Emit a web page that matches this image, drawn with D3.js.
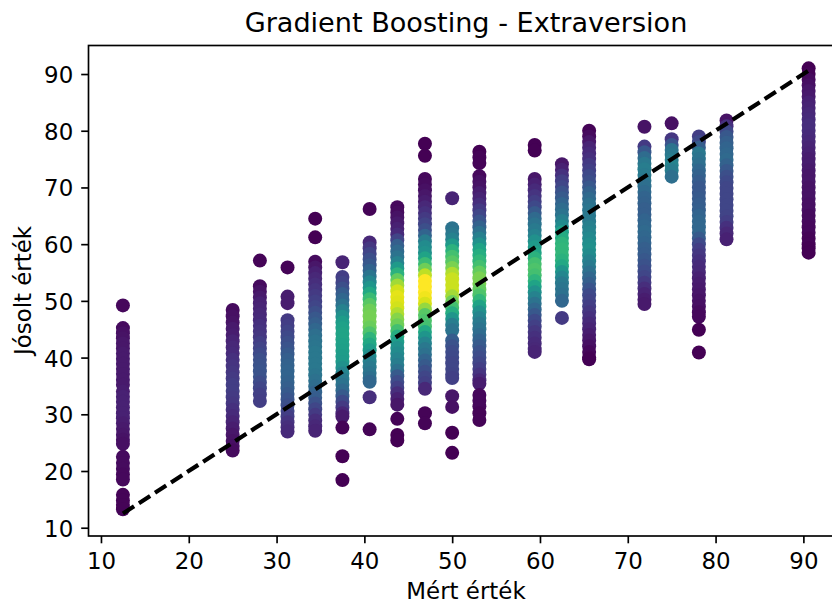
<!DOCTYPE HTML>
<html lang="en">
<head>
<meta charset="utf-8" />
<title>Gradient Boosting - Extraversion</title>
<style>
  html, body { margin: 0; padding: 0; background: #fff; overflow: hidden; }
  svg { display: block; }
  text { font-family: "DejaVu Sans", sans-serif; fill: #000; }
</style>
</head>
<body>
<div id="chart"></div>
<script src="https://d3js.org/d3.v7.min.js"></script>
<script>
// data
const titleText = "Gradient Boosting - Extraversion";
const xLabel = "Mért érték";
const yLabel = "Jósolt érték";
const xTicks = [10, 20, 30, 40, 50, 60, 70, 80, 90];
const yTicks = [10, 20, 30, 40, 50, 60, 70, 80, 90];
const idealLine = [12.5, 90.6];

const measured = [12.5, 25, 28.1, 31.25, 34.4, 37.5, 40.6, 43.75, 46.9, 50, 53.1, 59.4, 62.5, 65.6, 71.9, 75, 78.1, 81.25, 90.6];

// predicted values, one list per measured value
const predicted = [
  [49.2,45.2,44.3,43.4,42.5,41.6,40.7,39.8,38.9,38.0,37.1,36.1,35.2,34.0,33.1,32.2,31.2,30.2,29.3,28.4,27.4,26.4,25.5,24.8,22.5,21.4,20.4,19.4,18.5,15.8,14.8,14.0,13.25],
  [48.4,47.3,46.2,45.1,44.0,42.9,41.8,40.7,39.6,38.5,37.4,36.3,35.2,34.1,33.0,31.9,30.8,29.7,28.6,27.5,26.4,25.3,24.4,23.6],
  [57.1,52.6,51.6,50.6,49.6,48.6,47.6,46.6,45.6,44.6,43.6,42.6,41.6,40.6,39.6,38.6,37.6,36.6,35.6,34.6,33.5,32.35],
  [55.9,50.75,49.6,46.6,45.6,44.6,43.6,42.6,41.6,40.6,39.6,38.6,37.6,36.6,35.6,34.6,33.6,32.6,31.6,30.6,29.6,28.6,27.7,26.95],
  [64.5,61.2,56.9,55.9,54.9,53.9,52.9,51.9,50.9,49.9,48.9,47.9,46.9,45.9,44.9,43.9,42.9,41.9,40.9,39.9,38.9,37.9,36.9,35.9,34.9,33.9,32.9,31.9,30.9,29.9,28.9,27.9,27.1],
  [56.8,54.2,53.2,52.2,51.2,50.2,49.2,48.2,47.2,46.2,45.2,44.2,43.2,42.2,41.2,40.2,39.2,38.2,37.2,36.2,35.2,34.2,33.2,32.2,31.2,30.2,29.6,27.65,22.6,18.4],
  [66.2,60.3,59.3,58.3,57.3,56.3,55.3,54.3,53.3,52.3,51.3,50.3,49.3,48.3,47.3,46.3,45.3,44.3,43.3,42.3,41.3,40.3,39.3,38.3,37.3,36.4,35.75,33.0,27.35],
  [66.5,65.6,64.7,63.7,62.7,61.7,60.7,59.7,58.7,57.7,56.7,55.7,54.7,53.7,52.7,51.7,50.7,49.7,48.7,47.7,46.7,45.7,44.7,43.7,42.7,41.7,40.7,39.7,38.7,37.7,36.7,35.7,34.7,33.7,32.7,31.7,29.2,26.35,25.4],
  [77.7,75.6,71.5,70.5,69.5,68.5,67.5,66.5,65.5,64.5,63.5,62.5,61.5,60.5,59.5,58.5,57.5,56.5,55.5,54.5,53.5,52.5,51.5,50.5,49.5,48.5,47.5,46.5,45.5,44.5,43.5,42.5,41.5,40.5,39.5,38.5,37.5,36.5,35.5,34.5,30.2,28.4],
  [68.1,62.8,61.8,60.8,59.8,58.8,57.8,56.8,55.8,54.8,53.8,52.8,51.8,50.8,49.8,48.8,47.8,46.8,45.8,44.8,43.0,42.0,41.0,40.0,39.0,38.0,37.0,36.4,33.2,31.3,26.75,23.2],
  [76.3,75.3,74.3,72.0,71.0,70.0,69.0,68.0,67.0,66.0,65.0,64.0,63.0,62.0,61.0,60.0,59.0,58.0,57.0,56.0,55.0,54.0,53.0,52.0,51.0,50.0,49.0,48.0,47.0,46.0,45.0,44.0,43.0,42.0,41.0,40.0,39.0,38.0,37.0,36.0,35.4,33.4,32.4,31.4,30.2,29.0],
  [77.5,76.5,71.5,70.5,69.5,68.5,67.5,66.5,65.5,64.5,63.5,62.5,61.5,60.5,59.5,58.5,57.5,56.5,55.5,54.5,53.5,52.5,51.5,50.5,49.5,48.5,47.5,46.5,45.5,44.5,43.5,42.5,41.5,41.0],
  [74.1,73.1,72.1,71.1,70.1,69.1,68.1,67.1,66.1,65.1,64.1,63.1,62.1,61.1,60.1,59.1,58.1,57.1,56.1,55.1,54.1,53.1,52.1,51.1,50.0,47.0],
  [80,79,78,77,76,75,74,73,72,71,70,69,68,67,66,65,64,63,62,61,60,59,58,57,56,55,54,53,52,51,50,49,48,47,46,45,44,43,42,41,40,39.7],
  [80.7,77.2,76.2,75.2,74.2,73.2,72.2,71.2,70.2,69.2,68.2,67.2,66.2,65.2,64.2,63.2,62.2,61.2,60.2,59.2,58.2,57.2,56.2,55.2,54.2,53.2,52.2,51.2,50.2,49.45],
  [81.3,78.5,77.5,76.6,75.7,74.85,73.9,73.0,71.9],
  [79,78,77,76,75,74,73,72,71,70,69,68,67,66,65,64,63,62,61,60,59,58,57,56,55,54,53,52,51,50,49,48,47.2,44.9,40.9],
  [81.8,80.8,79.85,78.9,77.9,76.9,75.9,74.9,73.9,72.9,71.9,70.9,69.9,68.9,67.9,66.9,65.9,64.9,63.9,62.9,61.9,60.85],
  [91,90,89,88,87,86,85,84,83,82,81,80,79,78,77,76,75,74,73,72,71,70,69,68,67,66,65,64,63,62,61,60,59.3,58.5]
];

// point density (0-1 on the colour scale), same order as predicted
const density = [
  [.02,.03,.04,.05,.06,.06,.07,.07,.07,.07,.07,.07,.07,.08,.09,.09,.09,.09,.09,.08,.07,.06,.05,.04,.03,.03,.03,.02,.02,.01,.01,.01,.01],
  [.03,.04,.05,.07,.08,.1,.11,.12,.14,.15,.16,.17,.18,.18,.17,.16,.14,.12,.1,.08,.06,.05,.04,.03],
  [.01,.03,.05,.07,.09,.1,.11,.12,.14,.15,.16,.18,.2,.22,.24,.25,.26,.25,.23,.21,.19,.18],
  [.01,.08,.08,.17,.18,.2,.22,.24,.26,.28,.3,.31,.32,.32,.31,.3,.28,.26,.24,.21,.18,.15,.13,.12],
  [0,0,.03,.06,.09,.11,.13,.15,.17,.19,.21,.24,.27,.3,.33,.36,.38,.39,.4,.4,.4,.4,.39,.37,.35,.32,.29,.25,.21,.17,.13,.11,.1],
  [.1,.18,.2,.24,.29,.33,.38,.44,.5,.55,.57,.58,.58,.57,.56,.55,.54,.5,.45,.41,.38,.34,.28,.22,.17,.11,.07,.01,0,0],
  [.01,.11,.16,.2,.24,.27,.32,.39,.46,.52,.6,.68,.74,.78,.79,.79,.77,.72,.65,.6,.55,.49,.44,.41,.39,.36,.33,.13,.01],
  [.02,.03,.05,.07,.09,.12,.2,.3,.34,.38,.44,.54,.64,.76,.86,.93,.96,.95,.93,.88,.82,.78,.7,.62,.55,.5,.48,.45,.42,.37,.28,.23,.19,.13,.09,.06,.01,0,0],
  [0,0,.02,.03,.04,.06,.08,.11,.14,.17,.2,.24,.32,.42,.48,.5,.58,.68,.78,.9,1,1,1,.98,.94,.84,.74,.72,.7,.6,.52,.45,.4,.37,.32,.28,.24,.21,.19,.11,.01,.01],
  [.1,.38,.4,.44,.54,.64,.7,.74,.8,.88,.92,.92,.92,.86,.78,.7,.62,.52,.42,.38,.29,.25,.23,.22,.21,.21,.2,.19,.06,.04,0,0],
  [0,.01,.01,.02,.04,.05,.08,.1,.13,.17,.21,.26,.31,.37,.43,.5,.58,.62,.66,.7,.76,.8,.8,.76,.72,.66,.58,.5,.45,.41,.38,.35,.31,.28,.25,.23,.21,.18,.15,.11,.08,.02,.02,.02,.01,.01],
  [0,0,.06,.09,.12,.15,.18,.22,.28,.34,.38,.41,.44,.5,.54,.58,.64,.7,.72,.7,.65,.58,.5,.44,.38,.33,.27,.22,.19,.16,.14,.12,.11,.1],
  [.06,.09,.14,.18,.21,.25,.28,.32,.35,.38,.43,.48,.57,.61,.65,.66,.66,.64,.6,.52,.46,.41,.39,.37,.33,.17],
  [.01,.03,.06,.1,.12,.14,.17,.19,.22,.24,.27,.31,.34,.37,.39,.4,.41,.43,.45,.47,.49,.5,.48,.44,.41,.37,.33,.3,.26,.22,.2,.18,.16,.14,.12,.1,.08,.06,.04,.02,.01,0],
  [.05,.17,.27,.35,.4,.42,.41,.39,.36,.34,.32,.31,.3,.3,.32,.33,.34,.33,.32,.3,.29,.27,.25,.23,.21,.17,.13,.1,.08,.07],
  [.04,.16,.26,.38,.4,.42,.45,.42,.36],
  [.18,.22,.3,.4,.38,.36,.33,.31,.29,.27,.27,.28,.29,.3,.32,.33,.33,.33,.28,.22,.18,.16,.14,.12,.11,.09,.08,.07,.06,.05,.04,.03,.02,0,0],
  [.05,.14,.22,.27,.3,.32,.33,.34,.31,.27,.24,.22,.21,.21,.21,.21,.21,.2,.18,.14,.11,.09],
  [0,.01,.03,.04,.06,.07,.09,.1,.11,.12,.13,.13,.12,.11,.1,.09,.08,.08,.07,.06,.06,.05,.05,.05,.04,.04,.03,.03,.02,.02,.01,.01,0,0]
];

predicted.forEach((col, i) => {
  if (col.length !== density[i].length) throw new Error("length mismatch in column " + i + ": " + col.length + " vs " + density[i].length);
});

const width = 832;
const height = 603;

const svg = d3.select("#chart")
  .append("svg")
  .attr("width", width)
  .attr("height", height);

const xScale = d3.scaleLinear().domain([8.58, 94.57]).range([88.5, 843.5]);
const yScale = d3.scaleLinear().domain([8.54, 95.03]).range([536, 45.5]);

// flatten columns into points
const points = measured.flatMap((m, i) =>
  predicted[i].map((p, j) => ({ x: m, y: p, d: density[i][j] })));

svg.selectAll("circle")
  .data(points)
  .enter()
  .append("circle")
  .attr("cx", d => xScale(d.x))
  .attr("cy", d => yScale(d.y))
  .attr("r", 7)
  .attr("fill", d => d3.interpolateViridis(d.d));

// ideal line
svg.append("line")
  .attr("x1", xScale(idealLine[0]))
  .attr("y1", yScale(idealLine[0]))
  .attr("x2", xScale(idealLine[1]))
  .attr("y2", yScale(idealLine[1]))
  .attr("stroke", "#000")
  .attr("stroke-width", 4.2)
  .attr("stroke-dasharray", "13.3,5.8");

// frame
svg.append("rect")
  .attr("x", xScale.range()[0])
  .attr("y", yScale.range()[1])
  .attr("width", xScale.range()[1] - xScale.range()[0])
  .attr("height", yScale.range()[0] - yScale.range()[1])
  .attr("fill", "none")
  .attr("stroke", "#000")
  .attr("stroke-width", 1.67);

// axes
const bottomAxis = d3.axisBottom(xScale).tickValues(xTicks).tickSize(7.3).tickPadding(9);
const leftAxis = d3.axisLeft(yScale).tickValues(yTicks).tickSize(7.3).tickPadding(8);

svg.append("g")
  .attr("transform", "translate(0," + yScale.range()[0] + ")")
  .call(bottomAxis)
  .call(g => g.select(".domain").remove());

svg.append("g")
  .attr("class", "y-axis")
  .attr("transform", "translate(" + xScale.range()[0] + ",0)")
  .call(leftAxis)
  .call(g => g.select(".domain").remove());

svg.selectAll(".tick line").attr("stroke", "#000").attr("stroke-width", 1.67);
svg.selectAll(".tick text").style("font-size", "22.9px").style("font-family", '"DejaVu Sans", sans-serif');
svg.selectAll(".y-axis .tick text").attr("dy", "0.37em");

// labels
svg.append("text")
  .attr("x", 466)
  .attr("y", 32.3)
  .attr("text-anchor", "middle")
  .style("font-size", "27.1px")
  .text(titleText);

svg.append("text")
  .attr("x", 466)
  .attr("y", 599)
  .attr("text-anchor", "middle")
  .style("font-size", "22.9px")
  .text(xLabel);

svg.append("text")
  .attr("transform", "translate(31,290.5) rotate(-90)")
  .attr("text-anchor", "middle")
  .style("font-size", "22.9px")
  .text(yLabel);
</script>
</body>
</html>
